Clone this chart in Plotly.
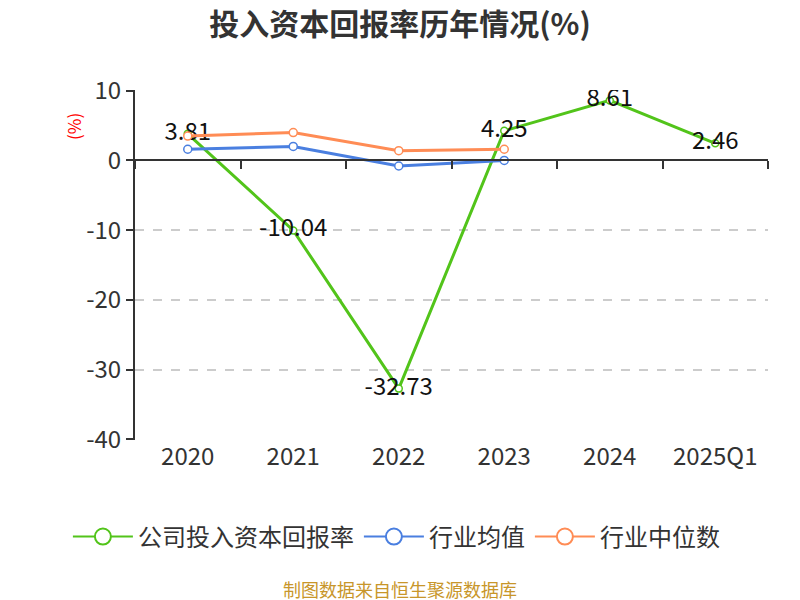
import plotly.graph_objects as go

categories = ["2020", "2021", "2022", "2023", "2024", "2025Q1"]
company = [3.81, -10.04, -32.73, 4.25, 8.61, 2.46]
industry_avg = [1.6, 2.0, -0.8, 0.0, None, None]
industry_median = [3.5, 4.0, 1.4, 1.6, None, None]
company_labels = ["3.81", "-10.04", "-32.73", "4.25", "8.61", "2.46"]
y_tickvals = [10, 0, -10, -20, -30, -40]
y_ticktext = ["10", "0", "-10", "-20", "-30", "-40"]
series_names = ["公司投入资本回报率", "行业均值", "行业中位数"]

FONT = "Noto Sans CJK SC"
GREEN = "#52c41a"
BLUE = "#4a7fe0"
ORANGE = "#ff8c55"
colors = [GREEN, BLUE, ORANGE]

fig = go.Figure()
fig.add_trace(go.Scatter(
    x=categories, y=company, name=series_names[0], mode="lines+markers+text",
    showlegend=False, legendgroup="a",
    line=dict(color=GREEN, width=3),
    marker=dict(size=7, color="white", line=dict(color=GREEN, width=1.5)),
    text=company_labels, textposition="middle center",
    textfont=dict(family=FONT, size=24, color="#111"),
))
fig.add_trace(go.Scatter(
    x=categories, y=industry_avg, name=series_names[1], mode="lines+markers",
    showlegend=False, legendgroup="b",
    line=dict(color=BLUE, width=3),
    marker=dict(size=8, color="white", line=dict(color=BLUE, width=1.5)),
))
fig.add_trace(go.Scatter(
    x=categories, y=industry_median, name=series_names[2], mode="lines+markers",
    showlegend=False, legendgroup="c",
    line=dict(color=ORANGE, width=3),
    marker=dict(size=8, color="white", line=dict(color=ORANGE, width=1.5)),
))
# legend-only entries with larger symbols
for name, col, grp in zip(series_names, colors, ["a", "b", "c"]):
    fig.add_trace(go.Scatter(
        x=[None], y=[None], name=name, mode="lines+markers", legendgroup=grp,
        line=dict(color=col, width=2),
        marker=dict(size=16, color="white", line=dict(color=col, width=2)),
        hoverinfo="skip",
    ))
# helper trace for the zero-crossing category axis (tick marks at y=0)
fig.add_trace(go.Scatter(
    x=categories, y=[None] * len(categories), xaxis="x2", showlegend=False,
    hoverinfo="skip", mode="lines",
))

fig.update_layout(
    width=792, height=592,
    paper_bgcolor="white", plot_bgcolor="white",
    margin=dict(l=127, r=32, t=82, b=160, autoexpand=False),
    title=dict(text="<b>投入资本回报率历年情况(%)</b>", x=0.495, xanchor="center",
               y=0.972, yanchor="middle",
               font=dict(family=FONT, size=30, color="#333")),
    xaxis=dict(type="category", categoryorder="array", categoryarray=categories,
               range=[-0.5, 5.5], showline=False, showgrid=False, ticks="",
               tickangle=0,
               tickfont=dict(family=FONT, size=24, color="#333"), zeroline=False),
    xaxis2=dict(type="category", categoryorder="array", categoryarray=categories,
                range=[-0.5, 5.5], overlaying="x", anchor="free", position=0.8,
                side="bottom", showline=True, linecolor="#333", linewidth=2,
                ticks="outside", tickson="boundaries", ticklen=8, tickwidth=2,
                tickcolor="#333", showticklabels=False, showgrid=False),
    yaxis=dict(range=[-40.1, 10.1], tickvals=y_tickvals, ticktext=y_ticktext,
               showline=True, linecolor="#333",
               linewidth=2, ticks="outside", ticklen=7, tickwidth=2, tickcolor="#333",
               showgrid=True, gridcolor="#cccccc", griddash="dash", gridwidth=1.5,
               zeroline=False,
               tickfont=dict(family=FONT, size=24, color="#333")),
    legend=dict(orientation="h", x=-0.106, xanchor="left",
                y=-0.277, yanchor="middle", itemwidth=60,
                font=dict(family=FONT, size=24, color="#333")),
    showlegend=True,
)
fig.add_annotation(text="(%)", xref="paper", yref="paper", x=-0.097, y=0.896,
                   textangle=-90, showarrow=False, xanchor="center", yanchor="middle",
                   font=dict(family=FONT, size=17, color="red"))
fig.add_annotation(text="制图数据来自恒生聚源数据库", xref="paper", yref="paper",
                   x=0.419, y=-0.426, xanchor="center", yanchor="middle", showarrow=False,
                   font=dict(family=FONT, size=18, color="#c8962a"))

fig.write_html("out.html")
